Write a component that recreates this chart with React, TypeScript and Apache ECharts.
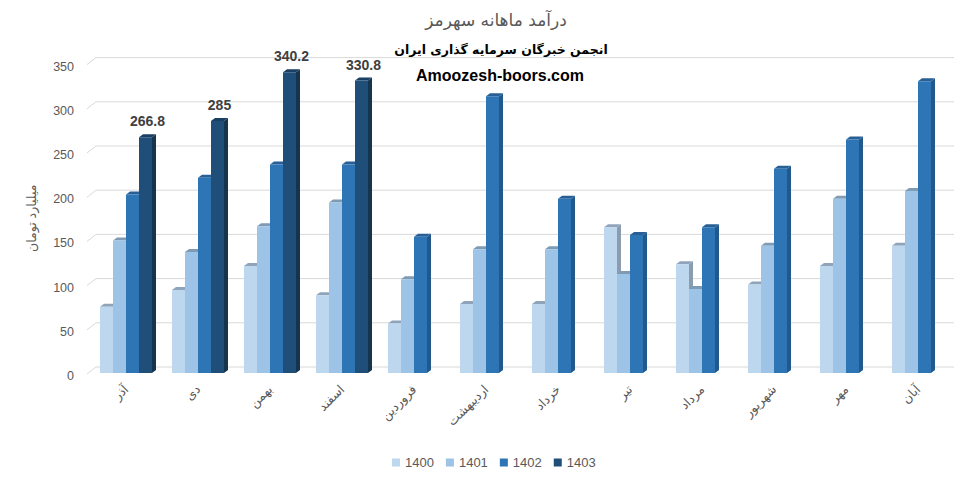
import React, { useEffect, useRef } from "react";
import * as echarts from "echarts";

const categories = ["آذر", "دی", "بهمن", "اسفند", "فروردین", "اردیبهشت", "خرداد", "تیر", "مرداد", "شهریور", "مهر", "آبان"];
const seriesNames = ["1400", "1401", "1402", "1403"];
const values1400 = [75, 94, 121, 88, 56, 78, 78, 165, 123, 100, 121, 144];
const values1401 = [150, 137, 166, 193, 106, 140, 140, 112, 95, 144, 197, 206];
const values1402 = [202, 221, 236, 236, 154, 313, 197, 156, 165, 231, 264, 330];
const values1403: (number | null)[] = [266.8, 285, 340.2, 330.8, null, null, null, null, null, null, null, null];
const yTicks = [0, 50, 100, 150, 200, 250, 300, 350];

const frontColors = ["#bdd7ee", "#9dc3e6", "#2e75b6", "#1f4e79"];
const sideColors = ["#8a9cae", "#7894ae", "#22598c", "#15344f"];
const topColors = ["#8fa4ba", "#7f9ab3", "#285f95", "#193f62"];

const allValues = [values1400, values1401, values1402, values1403];

function makeBarRender(s: number, showLabel: boolean) {
  return (params: any, api: any) => {
    const idx = api.value(0);
    const v = api.value(1);
    const p = api.coord([idx, v]);
    const b = api.coord([idx, 0]);
    const band = api.size([1, 0])[0];
    const bw = (band * 13) / 72;
    const x0 = p[0] - 2 * bw + s * bw;
    const yT = p[1];
    const yB = b[1];
    const dx = 4;
    const dy = 3;
    const children: any[] = [
      {
        type: "polygon",
        shape: { points: [[x0 + bw, yT], [x0 + bw + dx, yT - dy], [x0 + bw + dx, yB - dy], [x0 + bw, yB]] },
        style: { fill: sideColors[s] },
      },
      {
        type: "polygon",
        shape: { points: [[x0, yT], [x0 + dx, yT - dy], [x0 + bw + dx, yT - dy], [x0 + bw, yT]] },
        style: { fill: topColors[s] },
      },
      {
        type: "rect",
        shape: { x: x0, y: yT, width: bw, height: yB - yT },
        style: { fill: frontColors[s] },
      },
    ];
    if (showLabel) {
      children.push({
        type: "text",
        x: x0 + (bw + dx) / 2,
        y: yT - 9,
        style: {
          text: String(v),
          textAlign: "center",
          textVerticalAlign: "bottom",
          fill: "#404040",
          font: 'bold 14px "Liberation Sans"',
        },
      });
    }
    return { type: "group", children };
  };
}

function gridRender(params: any, api: any) {
  const v = api.value(1);
  const y = api.coord([0, v])[1];
  const cs = params.coordSys;
  const xl = cs.x;
  const xr = cs.x + cs.width;
  return {
    type: "polyline",
    shape: { points: [[xl - 3, y + 1], [xl + 6, y - 6], [xr, y - 6]] },
    style: { stroke: "#d9d9d9", lineWidth: 1, fill: null },
  };
}

export default function App() {
  const ref = useRef<HTMLDivElement>(null);
  useEffect(() => {
    if (!ref.current) return;
    const chart = echarts.init(ref.current, null, { renderer: "svg" });
    const barSeries = seriesNames.map((name, s) => ({
      name,
      type: "custom",
      coordinateSystem: "cartesian2d",
      itemStyle: { color: frontColors[s] },
      encode: { x: 0, y: 1 },
      data: allValues[s]
        .map((v, i) => [i, v])
        .filter((d) => d[1] !== null && d[1] !== undefined),
      renderItem: makeBarRender(s, s === 3),
      z: 3,
    }));
    chart.setOption({
      animation: false,
      grid: { left: 90, right: 26, top: 63.6, bottom: 109 },
      graphic: [
        {
          type: "text",
          x: 496,
          y: 20,
          style: {
            text: "درآمد ماهانه سهرمز",
            textAlign: "center",
            textVerticalAlign: "middle",
            fill: "#595959",
            font: '17px "DejaVu Sans"',
          },
        },
        {
          type: "text",
          x: 501,
          y: 49,
          style: {
            text: "انجمن خبرگان سرمایه گذاری ایران",
            textAlign: "center",
            textVerticalAlign: "middle",
            fill: "#000000",
            font: 'bold 12.5px "DejaVu Sans"',
          },
        },
        {
          type: "text",
          x: 500,
          y: 75,
          style: {
            text: "Amoozesh-boors.com",
            textAlign: "center",
            textVerticalAlign: "middle",
            fill: "#000000",
            font: 'bold 16px "Liberation Sans"',
          },
        },
      ],
      legend: {
        data: seriesNames,
        left: 387,
        top: 451,
        icon: "rect",
        itemWidth: 8,
        itemHeight: 8,
        itemGap: 12,
        textStyle: { color: "#595959", fontSize: 13, fontFamily: "Liberation Sans" },
      },
      xAxis: {
        type: "category",
        data: categories,
        boundaryGap: true,
        axisLine: { show: false },
        axisTick: { show: false },
        splitLine: { show: false },
        axisLabel: {
          rotate: 45,
          interval: 0,
          margin: 14,
          color: "#595959",
          fontSize: 12.5,
          fontFamily: "DejaVu Sans",
        },
      },
      yAxis: {
        type: "value",
        min: 0,
        max: 350,
        interval: 50,
        name: "میلیارد تومان",
        nameLocation: "middle",
        nameRotate: 90,
        nameGap: 52,
        nameTextStyle: { color: "#595959", fontSize: 12.5, fontFamily: "DejaVu Sans" },
        axisLine: { show: false },
        axisTick: { show: false },
        splitLine: { show: false },
        axisLabel: {
          color: "#595959",
          fontSize: 12.5,
          fontFamily: "Liberation Sans",
          margin: 16,
          verticalAlign: "top",
          lineHeight: 6,
        },
      },
      series: [
        {
          name: "grid",
          type: "custom",
          coordinateSystem: "cartesian2d",
          encode: { x: 0, y: 1 },
          data: yTicks.map((t) => [0, t]),
          renderItem: gridRender,
          silent: true,
          z: 1,
        },
        ...barSeries,
      ],
    });
    return () => chart.dispose();
  }, []);
  return (
    <div
      ref={ref}
      style={{ position: "absolute", left: 0, top: 0, width: 980, height: 482, background: "#fff" }}
    />
  );
}
